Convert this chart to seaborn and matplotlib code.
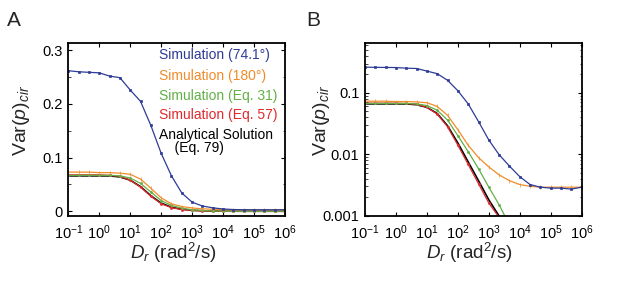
import matplotlib
matplotlib.use("Agg")
import matplotlib.pyplot as plt
import matplotlib.ticker as mticker
import numpy as np
import pandas as pd
import seaborn as sns

# rotational diffusion coefficient, 3 points per decade
dr = [0.1, 0.215, 0.464, 1, 2.15, 4.64, 10, 21.5, 46.4, 100, 215, 464,
      1000, 2150, 4640, 1e4, 2.15e4, 4.64e4, 1e5, 2.15e5, 4.64e5, 1e6]

sim_741 = [0.262, 0.260, 0.259, 0.258, 0.252, 0.249, 0.226, 0.205, 0.160, 0.108, 0.066, 0.034,
           0.017, 0.0098, 0.0064, 0.0043, 0.0032, 0.0029, 0.0028, 0.0028, 0.0027, 0.0029]
sim_180 = [0.073, 0.073, 0.073, 0.072, 0.072, 0.071, 0.069, 0.060, 0.043, 0.025, 0.014, 0.0088,
           0.0062, 0.0046, 0.0037, 0.0032, 0.0030, 0.0029, 0.0029, 0.0029, 0.0029, 0.0029]
sim_eq31 = [0.067, 0.067, 0.067, 0.067, 0.067, 0.066, 0.062, 0.052, 0.036, 0.020, 0.011, 0.0058,
            0.0029, 0.0015, 0.0007, 0.00032, 0.00015, 7e-5, 3.2e-5, 1.5e-5, 7e-6, 3.2e-6]
sim_eq57 = [0.068, 0.068, 0.068, 0.068, 0.067, 0.065, 0.058, 0.045, 0.028, 0.014, 0.0068, 0.0033,
            0.0016, 0.00093, 0.00043, 0.0002, 9e-5, 4e-5, 2e-5, 9e-6, 4e-6, 2e-6]
analytical = [0.066, 0.066, 0.066, 0.066, 0.066, 0.064, 0.058, 0.046, 0.029, 0.0152, 0.0075, 0.0037,
              0.0018, 0.00098, 0.00045, 0.0002, 9.5e-5, 4.5e-5, 2.1e-5, 9.5e-6, 4.5e-6, 2.1e-6]

labels = ["Simulation (74.1°)", "Simulation (180°)", "Simulation (Eq. 31)",
          "Simulation (Eq. 57)", "Analytical Solution\n    (Eq. 79)"]
colors = ["#2e3c96", "#f08c2a", "#62b046", "#e02a2e", "black"]
markers = ["s", "|", "o", "o", None]

sns.set_theme(style="ticks")
plt.rcParams["font.family"] = ["Liberation Sans", "DejaVu Sans"]
plt.rcParams["mathtext.fontset"] = "custom"
plt.rcParams["mathtext.rm"] = "Liberation Sans"
plt.rcParams["mathtext.it"] = "Liberation Sans:italic"

series = [sim_741, sim_180, sim_eq31, sim_eq57, analytical]
# draw order: analytical underneath the simulations
order = [4, 3, 2, 1, 0]

fig = plt.figure(figsize=(6.17, 2.87), dpi=100)
axA = fig.add_axes([0.1107, 0.247, 0.3512, 0.602])
axB = fig.add_axes([0.5916, 0.247, 0.3512, 0.602])

for ax in (axA, axB):
    for i in order:
        df = pd.DataFrame({"Dr": dr, "var": series[i]})
        if markers[i] is None:
            sns.lineplot(data=df, x="Dr", y="var", ax=ax, color=colors[i], lw=1.2)
        else:
            sns.lineplot(data=df, x="Dr", y="var", ax=ax, color=colors[i], lw=0.9,
                         marker=markers[i], markersize=1.5 if markers[i] != "|" else 3.0,
                         markeredgewidth=0.5, markeredgecolor=colors[i])
    ax.set_xscale("log")
    ax.set_xlim(0.1, 1e6)
    ax.xaxis.set_major_locator(mticker.LogLocator(base=10, numticks=10))
    ax.xaxis.set_minor_locator(mticker.NullLocator())
    ax.tick_params(direction="in", top=True, right=True, labelsize=10.5, length=3,
                   width=0.8, colors="black", pad=4)
    ax.tick_params(axis="x", pad=5.5)
    ax.tick_params(which="minor", direction="in", top=True, right=True, length=1.8, width=0.6)
    for s in ax.spines.values():
        s.set_linewidth(1.3)
        s.set_color("black")
    ax.set_xlabel(r"$D_r$ (rad$^2$/s)", fontsize=13.5, va="center")
    ax.set_ylabel(r"Var($p$)$_{cir}$", fontsize=14, va="center")

axA.xaxis.set_label_coords(0.483, -0.214)
axB.xaxis.set_label_coords(0.483, -0.214)
axA.yaxis.set_label_coords(-0.215, 0.556)
axB.yaxis.set_label_coords(-0.2, 0.556)

axA.set_ylim(-0.009, 0.313)
axA.set_yticks([0, 0.1, 0.2, 0.3])
axA.set_yticklabels(["0", "0.1", "0.2", "0.3"])
axA.yaxis.set_minor_locator(mticker.MultipleLocator(0.05))

axB.set_yscale("log")
axB.set_ylim(0.00098, 0.64)
axB.set_yticks([0.001, 0.01, 0.1])
axB.set_yticklabels(["0.001", "0.01", "0.1"])

ypos = [0.935, 0.812, 0.698, 0.586, 0.51]
for i in range(5):
    axA.text(0.42, ypos[i], labels[i], color=colors[i], fontsize=10, transform=axA.transAxes,
             va="top" if i == 4 else "center", ha="left", linespacing=0.95)

fig.text(0.012, 0.96, "A", fontsize=15, va="top")
fig.text(0.497, 0.96, "B", fontsize=15, va="top")

fig.savefig("out.png", dpi=100)
